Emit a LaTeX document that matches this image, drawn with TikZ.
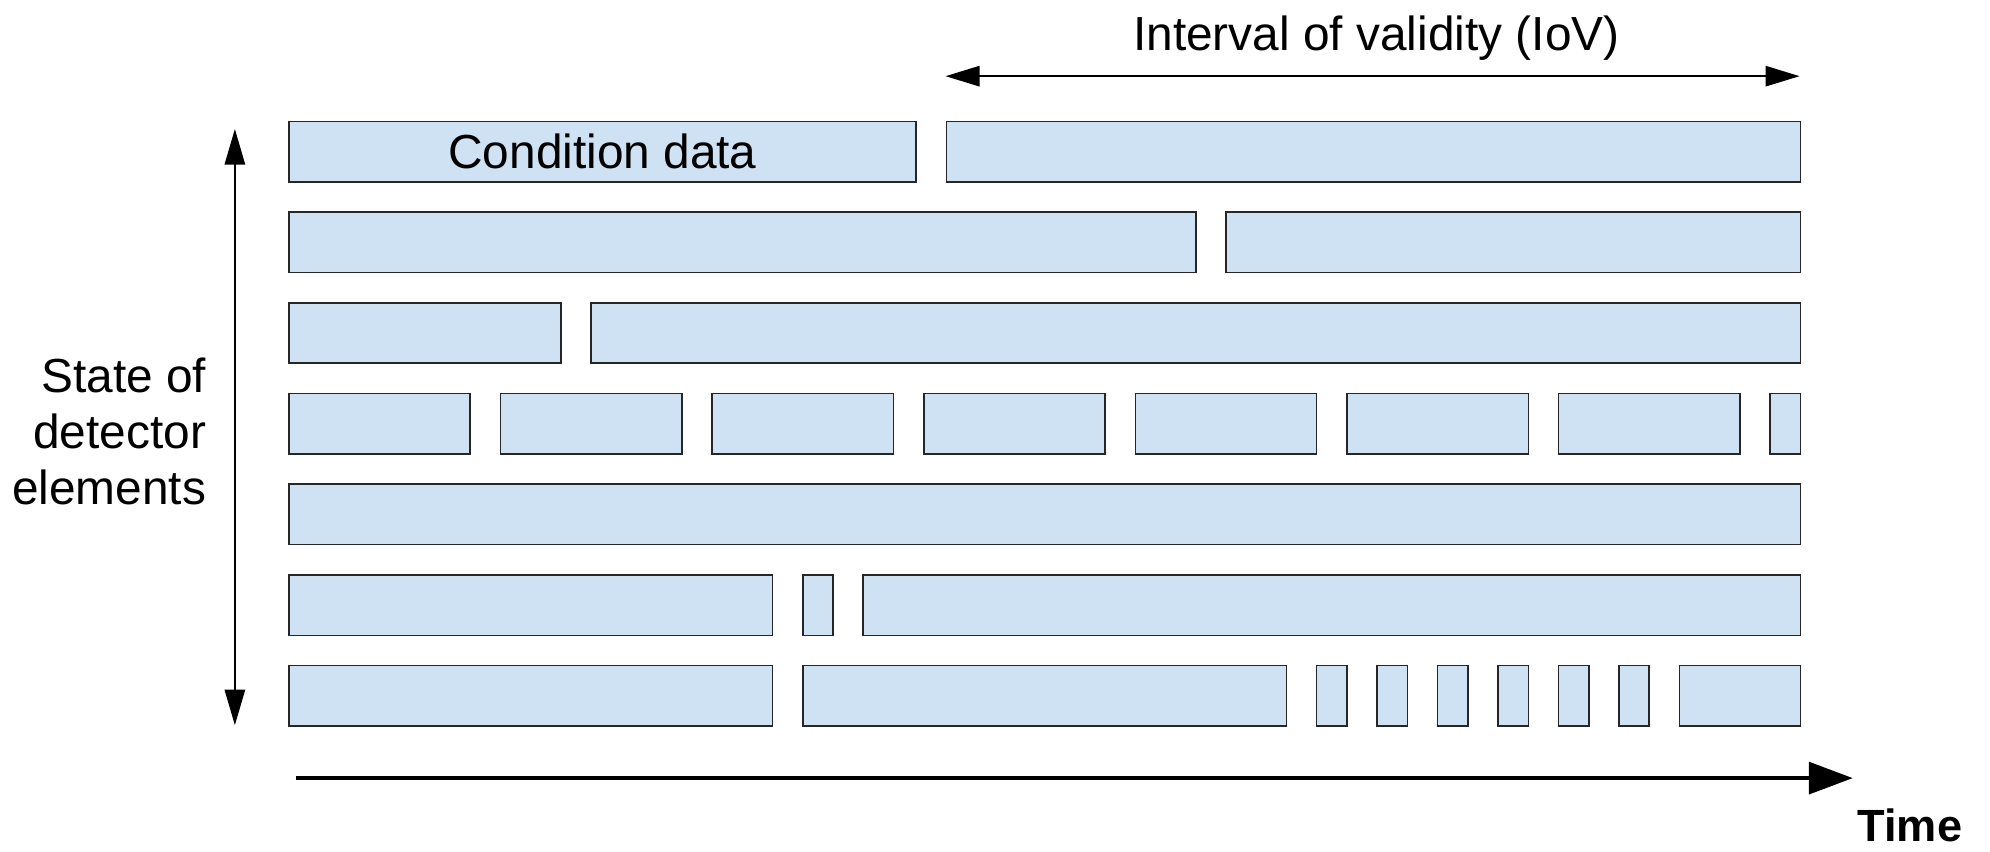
\documentclass[tikz,border=0pt]{standalone}
\usepackage{fontspec}
\setmainfont{Liberation Sans}
\usetikzlibrary{arrows.meta}
\definecolor{condblue}{HTML}{CFE2F3}

\begin{document}
\begin{tikzpicture}[x=0.4cm, y=0.4cm, font=\fontsize{18}{21}\selectfont,
	cbox/.style={draw=black!85, line width=0.6pt, fill=condblue, inner sep=0pt,
		anchor=north west, minimum height=0.8cm, minimum width=#1*0.4cm}]
	\useasboundingbox (-9.53,-24.18) rectangle (56.30,3.99);

	% row 1
	\node[cbox=20.75] (r1a) at (0,0) {Condition data};
	\node[cbox=28.25] (r1b) at (21.75,0) {};

	% row 2
	\node[cbox=30] (r2a) at (0,-3) {};
	\node[cbox=19] (r2b) at (31,-3) {};

	% row 3
	\node[cbox=9] (r3a) at (0,-6) {};
	\node[cbox=40] (r3b) at (10,-6) {};

	% row 4
	\foreach \i in {0,...,6}
		\node[cbox=6] (r4-\i) at (7*\i,-9) {};
	\node[cbox=1] (r4-7) at (49,-9) {};

	% row 5
	\node[cbox=50] (r5a) at (0,-12) {};

	% row 6
	\node[cbox=16] (r6a) at (0,-15) {};
	\node[cbox=1] (r6b) at (17,-15) {};
	\node[cbox=31] (r6c) at (19,-15) {};

	% row 7
	\node[cbox=16] (r7a) at (0,-18) {};
	\node[cbox=16] (r7b) at (17,-18) {};
	\foreach \i in {0,...,5}
		\node[cbox=1] (r7s-\i) at (34+2*\i,-18) {};
	\node[cbox=4] (r7c) at (46,-18) {};

	% interval of validity
	\coordinate (iovL) at (21.75,1.47);
	\coordinate (iovR) at (50,1.47);
	\draw [line width=0.6pt, {Triangle[length=0.45cm,width=0.27cm]}-{Triangle[length=0.45cm,width=0.27cm]}] (iovL) -- (iovR);
	\node[anchor=base] (iovlabel) at (36,2.31) {Interval of validity (IoV)};

	% detector elements
	\coordinate (stTop) at (-1.76,-0.28);
	\coordinate (stBot) at (-1.76,-20);
	\draw [line width=0.6pt, {Triangle[length=0.47cm,width=0.27cm]}-{Triangle[length=0.47cm,width=0.27cm]}] (stTop) -- (stBot);
	\node[anchor=east, align=right] (state) at (-2.4,-10.29) {State of\\detector\\elements};

	% time axis
	\coordinate (tStart) at (0.25,-21.75);
	\coordinate (tEnd) at (51.76,-21.75);
	\draw [line width=1.5pt, -{Triangle[length=0.58cm,width=0.42cm]}] (tStart) -- (tEnd);
	\node[anchor=base, font=\fontsize{17}{20}\selectfont\bfseries] (time) at (53.65,-23.85) {Time};
\end{tikzpicture}
\end{document}
